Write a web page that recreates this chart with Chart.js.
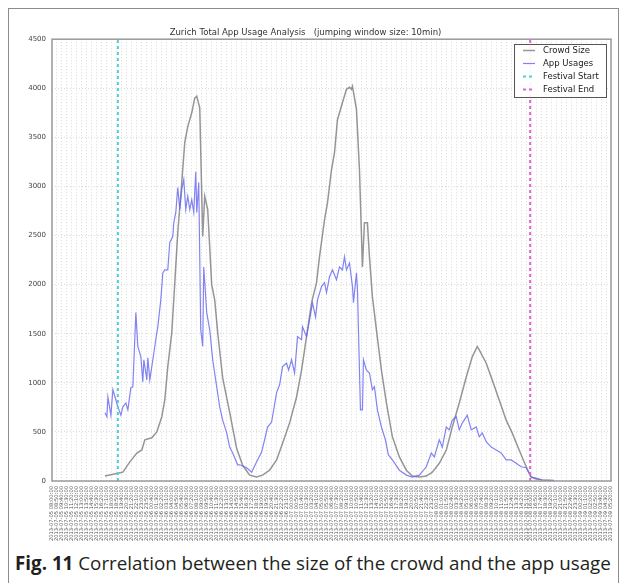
<!DOCTYPE html>
<html>
<head>
<meta charset="utf-8">
<script src="https://cdn.jsdelivr.net/npm/chart.js@4.4.1/dist/chart.umd.min.js"></script>
<style>
  html, body { margin: 0; padding: 0; background: #fff; }
  body { width: 626px; height: 583px; position: relative; overflow: hidden; }
  #frame { position: absolute; left: 8px; top: 8px; width: 611px; height: 590px; border: 1.5px solid #8c8c8c; box-sizing: border-box; }
  #chartBox { position: absolute; left: 0; top: 0; width: 626px; height: 545px; }
  #caption { position: absolute; left: 15px; top: 552px; line-height: 22px; font-family: "Open Sans", sans-serif; font-size: 18.8px; color: #231f20; white-space: nowrap; }
  #caption b { font-weight: 700; }
</style>
</head>
<body>
<div id="frame"></div>
<div id="chartBox"><canvas id="usageChart" width="626" height="545"></canvas></div>
<div id="caption"><b>Fig. 11</b> Correlation between the size of the crowd and the app usage</div>
<script>
// x values are 10-minute window numbers, one tick every 5 windows
var windowsPerTick = 5;
var lastWindow = 560;
var festivalStart = 66;
var festivalEnd = 479;

// tick labels: timestamps of every 5th window
var tickLabels = [];
(function() {
    var startDay = 5, startMin = 8 * 60;
    for (var i = 0; i <= lastWindow / windowsPerTick; i++) {
        var t = startMin + i * windowsPerTick * 10;
        var d = startDay + Math.floor(t / 1440);
        var h = Math.floor((t % 1440) / 60);
        var m = t % 60;
        tickLabels.push('2013-07-' + ('0' + d).slice(-2) + ' ' + ('0' + h).slice(-2) + ':' + ('0' + m).slice(-2) + ':00');
    }
})();

var crowdWin = [53,66,71,78,85,90,93,100,105,110,113,116,120,123,126,130,133,136,140,143,
    145,148,151,153,156,160,163,166,171,178,185,191,198,205,211,218,225,231,238,245,
    250,255,260,265,268,273,276,280,283,286,291,295,298,300,301,305,308,311,313,316,
    318,321,325,330,335,341,348,355,361,368,375,381,388,395,401,408,415,421,426,428,
    435,441,448,455,461,468,475,480,485,491,503];
var crowdSize = [50,80,90,195,285,316,420,440,500,655,825,1165,1510,2020,2530,3040,3450,3610,3750,3900,
    3920,3800,2490,2900,2765,2000,1845,1510,1050,700,330,160,60,40,60,110,215,385,590,855,
    1130,1470,1815,2020,2285,2660,2835,3170,3345,3680,3855,3990,4010,3990,4020,3785,3170,2180,2630,2630,
    2285,1875,1540,1130,795,450,245,110,50,40,50,90,180,315,550,795,1060,1265,1370,1335,
    1200,1030,825,620,490,315,145,40,20,10,5];

var appWin = [53,55,56,59,61,64,66,69,71,74,76,79,81,84,86,89,91,92,95,96,
    98,101,105,106,109,111,113,116,118,121,122,124,126,128,130,132,134,136,138,140,
    142,144,145,147,149,151,152,155,158,161,165,168,171,175,178,181,186,188,195,200,
    205,210,213,216,220,225,228,231,235,237,240,243,246,250,251,255,258,261,264,266,
    270,273,275,278,281,285,288,291,293,295,298,301,302,305,306,309,311,312,315,318,
    321,323,326,330,334,337,341,348,355,361,368,375,380,383,388,391,395,398,401,405,
    408,411,416,420,425,428,431,435,440,445,450,455,460,465,470,475,480,485,491,503];
var appUsage = [695,655,855,670,930,825,755,670,755,795,725,950,960,1715,1370,1265,1010,1235,1030,1255,
    1030,1235,1510,1570,1845,2120,2150,2150,2430,2490,2630,2735,2990,2765,2970,3070,2765,2900,2765,2865,
    2735,3150,2735,3040,1540,1370,2180,1715,1540,1235,960,755,620,490,345,285,165,165,135,90,
    195,295,420,550,600,900,980,1165,1200,1130,1235,1100,1470,1440,1570,1470,1640,1815,1670,1845,
    1980,2020,1920,2080,2150,2050,2180,2150,2285,2150,2220,1980,1815,2120,1950,725,725,1235,1130,1100,
    930,960,725,550,420,265,215,110,60,40,60,145,285,245,420,345,550,520,620,655,
    520,590,670,520,550,450,490,400,345,315,285,215,215,180,145,135,40,30,10,5];

var yTicks = { min: 0, max: 4500, step: 500 };

function toPoints(xs, ys) {
    return xs.map(function(x, i) { return { x: x, y: ys[i] }; });
}

// matplotlib style box around the plot area
var spinePlugin = {
    id: 'spines',
    afterDatasetsDraw: function(chart) {
        var a = chart.chartArea, ctx = chart.ctx;
        ctx.save();
        ctx.strokeStyle = '#9a9a9a';
        ctx.lineWidth = 1.5;
        ctx.strokeRect(a.left, a.top, a.right - a.left, a.bottom - a.top);
        ctx.restore();
    }
};

// legend box inside the plot, top right
var boxLegend = {
    id: 'boxLegend',
    afterDraw: function(chart) {
        var ctx = chart.ctx;
        var x = 514, y = 44, w = 92, h = 53;
        ctx.save();
        ctx.fillStyle = 'rgba(255,255,255,0.92)';
        ctx.fillRect(x, y, w, h);
        ctx.strokeStyle = '#555';
        ctx.lineWidth = 1;
        ctx.strokeRect(x + 0.5, y + 0.5, w, h);
        ctx.font = '8.5px "DejaVu Sans", sans-serif';
        ctx.textBaseline = 'middle';
        chart.data.datasets.forEach(function(ds, i) {
            var ly = y + 6.5 + i * 13;
            ctx.strokeStyle = ds.borderColor;
            ctx.lineWidth = ds.borderWidth;
            ctx.setLineDash(ds.borderDash || []);
            ctx.beginPath();
            ctx.moveTo(x + 9, ly);
            ctx.lineTo(x + 21, ly);
            ctx.stroke();
            ctx.setLineDash([]);
            ctx.fillStyle = '#1a1a1a';
            ctx.fillText(ds.label, x + 29, ly);
        });
        ctx.restore();
    }
};

var ctx = document.getElementById('usageChart').getContext('2d');
var usageChart = new Chart(ctx, {
    type: 'line',
    data: {
        datasets: [{
            label: 'Crowd Size',
            data: toPoints(crowdWin, crowdSize),
            borderColor: 'rgba(115,115,115,0.75)',
            borderWidth: 1.5,
            pointRadius: 0,
            order: 4
        }, {
            label: 'App Usages',
            data: toPoints(appWin, appUsage),
            borderColor: 'rgba(100,100,240,0.8)',
            borderWidth: 1.2,
            pointRadius: 0,
            order: 3
        }, {
            label: 'Festival Start',
            data: [{ x: festivalStart, y: yTicks.min }, { x: festivalStart, y: yTicks.max }],
            borderColor: '#4fd2cf',
            borderWidth: 2,
            borderDash: [3, 3],
            pointRadius: 0,
            order: 2
        }, {
            label: 'Festival End',
            data: [{ x: festivalEnd, y: yTicks.min }, { x: festivalEnd, y: yTicks.max }],
            borderColor: '#e462d2',
            borderWidth: 2,
            borderDash: [3, 3],
            pointRadius: 0,
            order: 1
        }]
    },
    options: {
        responsive: false,
        animation: false,
        layout: { padding: { left: 0, right: 15, top: 0, bottom: 0 } },
        plugins: {
            legend: { display: false },
            tooltip: { enabled: false },
            title: {
                display: true,
                text: 'Zurich Total App Usage Analysis   (jumping window size: 10min)',
                color: '#333',
                font: { family: '"DejaVu Sans", sans-serif', size: 8.5, weight: 'normal' },
                padding: { top: 28, bottom: 1 }
            }
        },
        scales: {
            x: {
                type: 'linear',
                min: 0,
                max: lastWindow,
                afterFit: function(scale) { scale.height = 64; },
                ticks: {
                    stepSize: windowsPerTick,
                    autoSkip: false,
                    minRotation: 90,
                    maxRotation: 90,
                    padding: 5,
                    color: '#555',
                    font: { family: '"DejaVu Sans", sans-serif', size: 5.2 },
                    callback: function(value) { return tickLabels[Math.round(value / windowsPerTick)]; }
                },
                grid: { color: '#d2d2d2', lineWidth: 0.8, drawTicks: false },
                border: { display: false, dash: [1, 2] }
            },
            y: {
                min: yTicks.min,
                max: yTicks.max,
                afterFit: function(scale) { scale.width = 52; },
                ticks: {
                    stepSize: yTicks.step,
                    padding: 6,
                    color: '#444',
                    font: { family: '"DejaVu Sans", sans-serif', size: 7 },
                    callback: function(value) { return String(value); }
                },
                grid: { color: '#d2d2d2', lineWidth: 0.8, drawTicks: false },
                border: { display: false, dash: [1, 2] }
            }
        }
    },
    plugins: [spinePlugin, boxLegend]
});
</script>
</body>
</html>
